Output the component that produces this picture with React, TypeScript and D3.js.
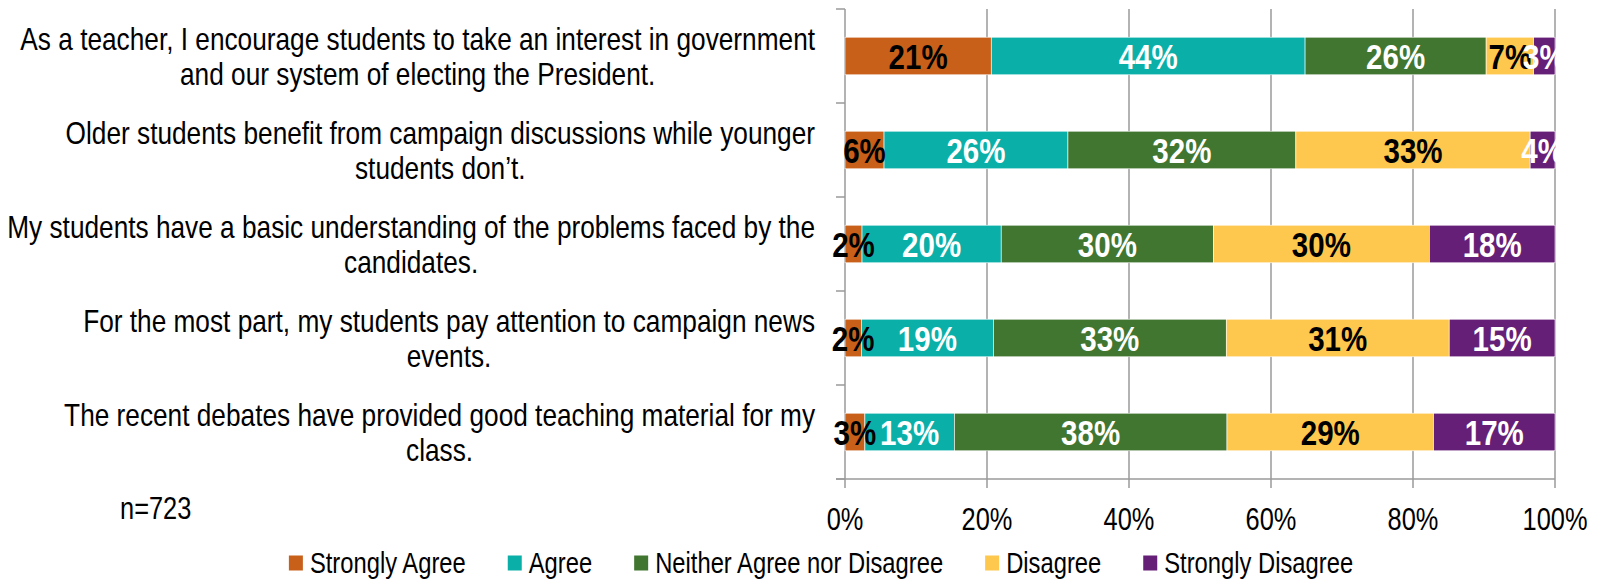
import { useEffect, useRef } from "react"
import * as d3 from "d3"

// category labels, already split into the lines shown in the chart
const categories = [
  ["As a teacher, I encourage students to take an interest in government", "and our system of electing the President."],
  ["Older students benefit from campaign discussions while younger", "students don\u2019t."],
  ["My students have a basic understanding of the problems faced by the", "candidates."],
  ["For the most part, my students pay attention to campaign news", "events."],
  ["The recent debates have provided good teaching material for my", "class."],
]

const seriesNames = ["Strongly Agree", "Agree", "Neither Agree nor Disagree", "Disagree", "Strongly Disagree"]
const seriesColors = ["#c8601a", "#0ab0a8", "#417630", "#fec84e", "#661f76"]
const labelColors = ["#000000", "#ffffff", "#ffffff", "#000000", "#ffffff"]

// percentages per category (top to bottom)
const stronglyAgree = [20.6, 5.5, 2.4, 2.3, 2.8]
const agree = [44.2, 25.9, 19.6, 18.6, 12.6]
const neither = [25.5, 32.1, 29.9, 32.8, 38.4]
const disagree = [6.7, 33.0, 30.4, 31.4, 29.1]
const stronglyDisagree = [3.0, 3.5, 17.7, 14.9, 17.1]

const xTicks = [0, 20, 40, 60, 80, 100]
const sampleNote = "n=723"

const FONT = "'Liberation Sans Narrow', 'Arial Narrow', 'Liberation Sans', Arial, sans-serif"
// no condensed face installed, so squeeze the regular one horizontally
const SX = 0.82

export default function App() {
  const svgRef = useRef<SVGSVGElement>(null)

  useEffect(() => {
    if (!svgRef.current) return
    const svg = d3.select(svgRef.current)
    svg.selectAll("*").remove()

    const width = 1599
    const height = 579
    svg.attr("width", width).attr("height", height)

    const left = 845
    const right = 1555
    const top = 9
    const bottom = 479
    const gridColor = "#9a9a9a"

    // text helper: condensed text at (x, y)
    const addText = (parent: any, tx: number, ty: number, str: string, size: number, anchor = "middle", bold = false, fill = "#000") => {
      const g = parent.append("g").attr("transform", `translate(${tx},${ty}) scale(${SX},1)`)
      const t = g
        .append("text")
        .attr("x", 0)
        .attr("y", 0)
        .attr("dy", "0.35em")
        .attr("text-anchor", anchor)
        .style("font-family", FONT)
        .style("font-size", `${size}px`)
        .style("font-weight", bold ? "bold" : "normal")
        .style("fill", fill)
        .text(str)
      return { g, t }
    }

    const keys = seriesNames
    const columns = [stronglyAgree, agree, neither, disagree, stronglyDisagree]
    const rows = categories.map((c, i) => {
      const r: any = { idx: i }
      keys.forEach((k, j) => (r[k] = columns[j][i]))
      return r
    })

    const x = d3.scaleLinear().domain([0, 100]).range([left, right])
    const y = d3
      .scaleBand<number>()
      .domain(rows.map((r) => r.idx))
      .range([top, bottom])
      .paddingInner(0.6)
      .paddingOuter(0.3)

    // vertical gridlines
    svg
      .append("g")
      .selectAll("line")
      .data(xTicks.slice(1))
      .enter()
      .append("line")
      .attr("x1", (d) => x(d))
      .attr("x2", (d) => x(d))
      .attr("y1", top)
      .attr("y2", bottom)
      .attr("stroke", gridColor)
      .attr("stroke-width", 1.5)

    // left axis + category ticks
    svg
      .append("line")
      .attr("x1", left)
      .attr("x2", left)
      .attr("y1", top)
      .attr("y2", bottom)
      .attr("stroke", gridColor)
      .attr("stroke-width", 1.5)

    const step = y.step()
    const boundaries = d3.range(categories.length + 1).map((i) => top + i * step)
    svg
      .append("g")
      .selectAll("line")
      .data(boundaries)
      .enter()
      .append("line")
      .attr("x1", left - 9)
      .attr("x2", left)
      .attr("y1", (d) => d)
      .attr("y2", (d) => d)
      .attr("stroke", gridColor)
      .attr("stroke-width", 1.5)

    // bottom axis
    svg
      .append("line")
      .attr("x1", left - 9)
      .attr("x2", right)
      .attr("y1", bottom)
      .attr("y2", bottom)
      .attr("stroke", gridColor)
      .attr("stroke-width", 1.5)

    svg
      .append("g")
      .selectAll("line")
      .data(xTicks)
      .enter()
      .append("line")
      .attr("x1", (d) => x(d))
      .attr("x2", (d) => x(d))
      .attr("y1", bottom)
      .attr("y2", bottom + 9)
      .attr("stroke", gridColor)
      .attr("stroke-width", 1.5)

    const tickG = svg.append("g")
    xTicks.forEach((d) => addText(tickG, x(d), 519, `${d}%`, 31))

    // stacked bars
    const stacked = d3.stack<any>().keys(keys)(rows)

    const layers = svg
      .append("g")
      .selectAll("g")
      .data(stacked)
      .enter()
      .append("g")
      .attr("fill", (_, i) => seriesColors[i])

    layers
      .selectAll("rect")
      .data((d) => d)
      .enter()
      .append("rect")
      .attr("x", (d) => x(d[0]))
      .attr("width", (d) => x(d[1]) - x(d[0]))
      .attr("y", (d) => y(d.data.idx)!)
      .attr("height", y.bandwidth())
      .attr("stroke", "#ffffff")
      .attr("stroke-width", 0.6)

    // value labels
    const valueG = svg.append("g")
    stacked.forEach((layer, i) => {
      layer.forEach((d) => {
        addText(
          valueG,
          x((d[0] + d[1]) / 2),
          y(d.data.idx)! + y.bandwidth() / 2,
          `${Math.round(d[1] - d[0])}%`,
          36,
          "middle",
          true,
          labelColors[i]
        )
      })
    })

    // category labels: lines centred within a block right-aligned at 815
    const labelRight = 815
    const lineGap = 35
    categories.forEach((lines, i) => {
      const cy = y(i)! + y.bandwidth() / 2
      const items = lines.map((line, j) =>
        addText(svg, 0, cy + (j - (lines.length - 1) / 2) * lineGap, line, 32)
      )
      const maxW = (d3.max(items, (it) => (it.t.node() as SVGTextElement).getComputedTextLength()) || 0) * SX
      items.forEach((it, j) =>
        it.g.attr("transform", `translate(${labelRight - maxW / 2},${cy + (j - (lines.length - 1) / 2) * lineGap}) scale(${SX},1)`)
      )
    })

    // sample size note
    addText(svg, 120, 508, sampleNote, 31, "start")

    // legend, centred under the chart
    const legend = svg.append("g")
    const legendY = 563
    const gap = 42
    let lx = 0
    seriesNames.forEach((name, i) => {
      const item = legend.append("g").attr("transform", `translate(${lx},0)`)
      item
        .append("rect")
        .attr("x", 0)
        .attr("y", legendY - 7.5)
        .attr("width", 14)
        .attr("height", 15)
        .attr("fill", seriesColors[i])
      const { t } = addText(item, 21, legendY, name, 29, "start")
      const w = (t.node() as SVGTextElement).getComputedTextLength() * SX
      lx += 21 + w + gap
    })
    const legendWidth = lx - gap
    legend.attr("transform", `translate(${821 - legendWidth / 2},0)`)
  }, [])

  return (
    <div style={{ position: "absolute", left: 0, top: 0, background: "#fff" }}>
      <svg ref={svgRef}></svg>
    </div>
  )
}
